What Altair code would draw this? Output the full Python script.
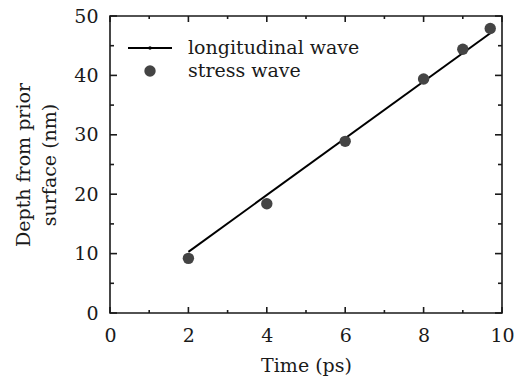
import altair as alt
import pandas as pd

# Measured stress-wave depths
time_ps = [2, 4, 6, 8, 9, 9.7]
depth_nm = [9.2, 18.4, 28.9, 39.4, 44.4, 47.9]

# Longitudinal-wave propagation line
line_time = [2, 9.7]
line_depth = [10.3, 47.1]

# Axis ticks
x_major = [0, 2, 4, 6, 8, 10]
x_minor = [1, 3, 5, 7, 9]
y_major = [0, 10, 20, 30, 40, 50]
y_minor = [5, 15, 25, 35, 45]

legend_labels = ["longitudinal wave", "stress wave"]

W, H = 392, 297
FONT = "DejaVu Serif"
INK = "#1a1a1a"

xs = alt.Scale(domain=[0, 10], nice=False, zero=False)
ys = alt.Scale(domain=[0, 50], nice=False, zero=False)

points_df = pd.DataFrame({"t": time_ps, "d": depth_nm})
line_df = pd.DataFrame({"t": line_time, "d": line_depth})

x_axis = alt.Axis(values=x_major, format="d", ticks=False, domain=False, grid=False,
                  labelFont=FONT, labelFontSize=19, labelColor=INK, labelPadding=13,
                  labelFlush=False,
                  title="Time (ps)", titleFont=FONT, titleFontSize=19, titleFontWeight="normal",
                  titleColor=INK, titleBaseline="alphabetic", titleY=58)
y_axis = alt.Axis(values=y_major, format="d", ticks=False, domain=False, grid=False,
                  labelFont=FONT, labelFontSize=19, labelColor=INK, labelPadding=12,
                  labelFlush=False,
                  title=["Depth from prior", "surface (nm)"], titleFont=FONT, titleFontSize=19,
                  titleFontWeight="normal", titleColor=INK, titleLineHeight=26,
                  titleX=-96, titleY=H / 2, titleBaseline="top", titleAngle=-90, titleAlign="center")

line = alt.Chart(line_df).mark_line(color="black", strokeWidth=2).encode(
    x=alt.X("t:Q", scale=xs, axis=x_axis),
    y=alt.Y("d:Q", scale=ys, axis=y_axis),
)

pts = alt.Chart(points_df).mark_circle(size=130, color="#444444", opacity=1).encode(
    x=alt.X("t:Q", scale=xs),
    y=alt.Y("d:Q", scale=ys),
)


def x_ticks(values, length):
    df = pd.DataFrame({"v": values})
    base = alt.Chart(df).mark_rule(color=INK, strokeWidth=1.6)
    bottom = base.encode(x=alt.X("v:Q", scale=xs), y=alt.value(H), y2=alt.value(H - length))
    top = base.encode(x=alt.X("v:Q", scale=xs), y=alt.value(0), y2=alt.value(length))
    return [bottom, top]


def y_ticks(values, length):
    df = pd.DataFrame({"v": values})
    base = alt.Chart(df).mark_rule(color=INK, strokeWidth=1.6)
    left = base.encode(y=alt.Y("v:Q", scale=ys), x=alt.value(0), x2=alt.value(length))
    right = base.encode(y=alt.Y("v:Q", scale=ys), x=alt.value(W), x2=alt.value(W - length))
    return [left, right]


ticks = x_ticks(x_major, 6) + x_ticks(x_minor, 3) + y_ticks(y_major, 7) + y_ticks(y_minor, 4)

# Legend in the upper-left corner of the plot
leg_line = alt.Chart(pd.DataFrame({"k": [legend_labels[0]]})).mark_rule(
    color="black", strokeWidth=2).encode(x=alt.value(18), x2=alt.value(62), y=alt.value(32))
leg_dot_small = alt.Chart(pd.DataFrame({"k": [legend_labels[0]]})).mark_circle(
    size=12, color="black", opacity=1).encode(x=alt.value(40), y=alt.value(32))
leg_dot = alt.Chart(pd.DataFrame({"k": [legend_labels[1]]})).mark_circle(
    size=130, color="#444444", opacity=1).encode(x=alt.value(40), y=alt.value(55))
leg_text = alt.Chart(pd.DataFrame({"k": legend_labels, "y": [32, 55]})).mark_text(
    font=FONT, fontSize=19, color=INK, align="left", baseline="middle").encode(
    x=alt.value(78), y=alt.Y("y:Q", scale=None), text="k:N")

chart = alt.layer(line, pts, *ticks, leg_line, leg_dot_small, leg_dot, leg_text).properties(
    width=W, height=H,
    autosize=alt.AutoSizeParams(type="none"),
    padding={"left": 110, "top": 16, "right": 28, "bottom": 70},
    background="white",
).configure_view(stroke=INK, strokeWidth=1.6)

chart.save("out.html", embed_options={"renderer": "svg", "actions": False})
